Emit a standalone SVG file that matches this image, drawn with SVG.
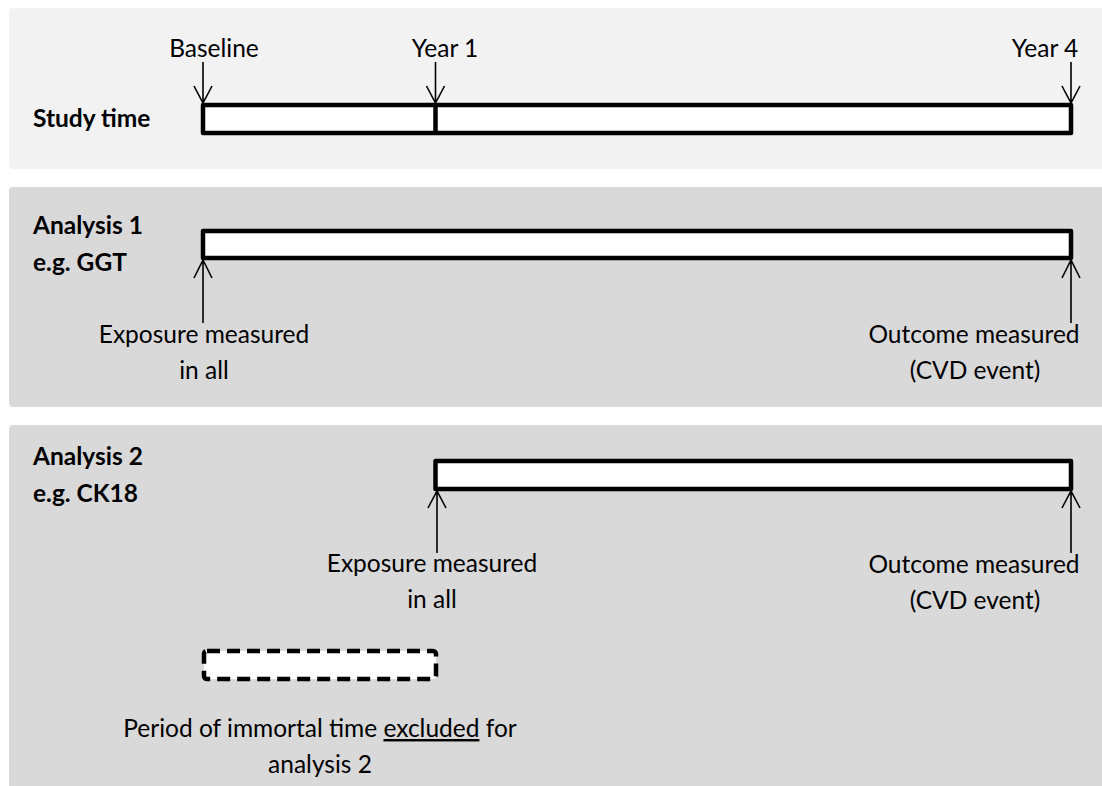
<svg xmlns="http://www.w3.org/2000/svg" width="1102" height="786" viewBox="0 0 1102 786">
<style>
.t{font-family:Lato,"Liberation Sans",sans-serif;font-size:24.5px;fill:#000}
.b{font-family:Lato,"Liberation Sans",sans-serif;font-size:24.5px;font-weight:bold;fill:#000}
.c{text-anchor:middle}
.bar{fill:#fff;stroke:#000;stroke-width:4.5;stroke-linejoin:round}
.arr{fill:none;stroke:#000;stroke-width:1.6}
</style>
<rect width="1102" height="786" fill="#fff"/>
<g id="panel-study">
<rect x="9" y="8" width="1100" height="161" rx="4" fill="#f2f2f2"/>
<text class="b" x="33" y="127">Study time</text>
<rect class="bar" x="203" y="105" width="868" height="28"/>
<line x1="435.5" y1="105" x2="435.5" y2="133" stroke="#000" stroke-width="4.5"/>
<text class="t c" x="214" y="57">Baseline</text>
<text class="t c" x="445" y="57">Year 1</text>
<text class="t c" x="1045" y="57">Year 4</text>
</g>
<g id="panel-analysis1">
<rect x="9" y="187" width="1100" height="220" rx="4" fill="#d9d9d9"/>
<text class="b" x="33" y="234">Analysis 1</text>
<text class="b" x="33" y="271">e.g. GGT</text>
<rect class="bar" x="203" y="231" width="868" height="27"/>
<text class="t c" x="204" y="343">Exposure measured</text>
<text class="t c" x="204" y="379">in all</text>
<text class="t c" x="974" y="343">Outcome measured</text>
<text class="t c" x="975" y="379">(CVD event)</text>
</g>
<g id="panel-analysis2">
<rect x="9" y="425" width="1100" height="370" rx="4" fill="#d9d9d9"/>
<text class="b" x="33" y="465">Analysis 2</text>
<text class="b" x="33" y="502">e.g. CK18</text>
<rect class="bar" x="435.5" y="461" width="635.5" height="28"/>
<text class="t c" x="432" y="572">Exposure measured</text>
<text class="t c" x="432" y="608">in all</text>
<text class="t c" x="974" y="573">Outcome measured</text>
<text class="t c" x="975" y="609">(CVD event)</text>
</g>
<g id="immortal-period">
<rect x="204" y="651" width="232" height="28" rx="3" fill="#fff" stroke="#000" stroke-width="4.5" stroke-dasharray="13,7"/>
<text class="t c" x="320" y="737">Period of immortal time <tspan text-decoration="underline">excluded</tspan> for</text>
<text class="t c" x="320" y="773">analysis 2</text>
</g>
<g id="connectors" class="arr">
<path d="M203 62V103M194 86L203 103L212 86"/>
<path d="M435.5 62V103M426.5 86L435.5 103L444.5 86"/>
<path d="M1071 62V103M1062 86L1071 103L1080 86"/>
<path d="M203 323V260M194 278L203 260L212 278"/>
<path d="M1071 323V260M1062 278L1071 260L1080 278"/>
<path d="M437 553V491M428 508L437 491L446 508"/>
<path d="M1071 553V491M1062 508L1071 491L1080 508"/>
</g>
</svg>
